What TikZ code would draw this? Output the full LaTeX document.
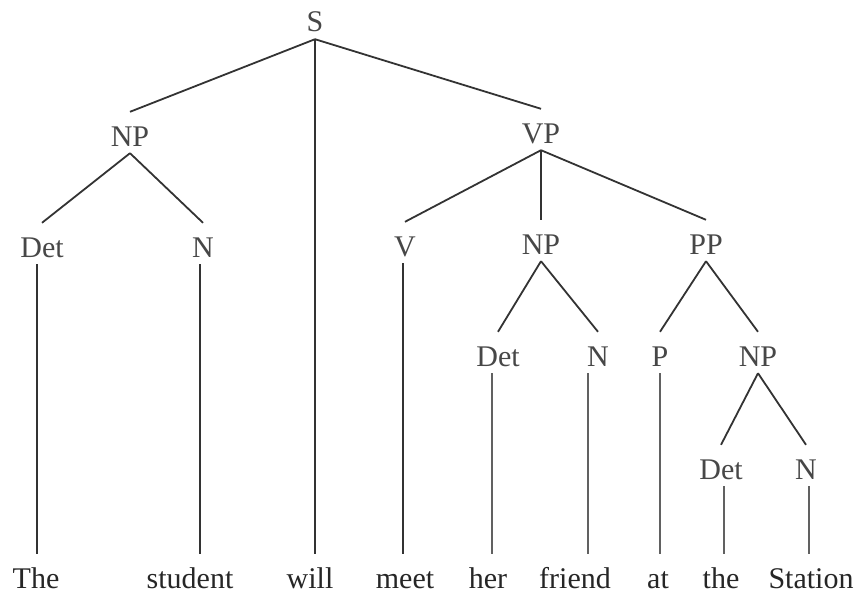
\documentclass[tikz,border=0pt]{standalone}
\usepackage{fontspec}
\setmainfont{Liberation Serif}
\begin{document}
\begin{tikzpicture}[x=1pt,y=-1pt,
  lab/.style={anchor=base, font=\fontsize{30}{35}\selectfont, text=black!72,
    text height=30pt, text depth=3pt, inner ysep=4pt, inner xsep=2pt},
  leaf/.style={lab, text=black!85},
  edge/.style={draw=black!80, line width=1.8pt},
  thinedge/.style={draw=black!62, line width=1.4pt}]
\useasboundingbox (0,0) rectangle (862,602);
% internal nodes
\node[lab] (S) at (315,32) {S};
\node[lab] (NPa) at (130,146) {NP};
\node[lab] (VP) at (541,143) {VP};
\node[lab] (Deta) at (42,257) {Det};
\node[lab] (Na) at (203,257) {N};
\node[lab] (V) at (405,256) {V};
\node[lab] (NPb) at (541,254) {NP};
\node[lab] (PP) at (706,254) {PP};
\node[lab] (Detb) at (498,366) {Det};
\node[lab] (Nb) at (598,366) {N};
\node[lab] (P) at (660,366) {P};
\node[lab] (NPc) at (758,366) {NP};
\node[lab] (Detc) at (721,479) {Det};
\node[lab] (Nc) at (806,479) {N};
% leaves
\node[leaf] (The) at (36,588) {The};
\node[leaf] (student) at (190,588) {student};
\node[leaf] (will) at (310,588) {will};
\node[leaf] (meet) at (405,588) {meet};
\node[leaf] (her) at (488,588) {her};
\node[leaf] (friend) at (575,588) {friend};
\node[leaf] (at) at (658,588) {at};
\node[leaf] (the) at (721,588) {the};
\node[leaf] (Station) at (811,588) {Station};
% branches
\draw[edge] (S.south) -- (NPa.north);
\draw[edge] (S.south) -- (VP.north);
\draw[edge] (S.south) -- (S.south |- will.north);
\draw[edge] (NPa.south) -- (Deta.north);
\draw[edge] (NPa.south) -- (Na.north);
\draw[edge] (VP.south) -- (V.north);
\draw[edge] (VP.south) -- (NPb.north);
\draw[edge] (VP.south) -- (PP.north);
\draw[edge] (NPb.south) -- (Detb.north);
\draw[edge] (NPb.south) -- (Nb.north);
\draw[edge] (PP.south) -- (P.north);
\draw[edge] (PP.south) -- (NPc.north);
\draw[edge] (NPc.south) -- (Detc.north);
\draw[edge] (NPc.south) -- (Nc.north);
% vertical lines to leaves
\draw[edge] ([xshift=-5pt]Deta.south) -- ([xshift=-5pt]Deta.south |- The.north);
\draw[edge] ([xshift=-3pt]Na.south) -- ([xshift=-3pt]Na.south |- student.north);
\draw[edge] ([xshift=-2pt]V.south) -- ([xshift=-2pt]V.south |- meet.north);
\draw[thinedge] ([xshift=-6pt]Detb.south) -- ([xshift=-6pt]Detb.south |- her.north);
\draw[thinedge] ([xshift=-10pt]Nb.south) -- ([xshift=-10pt]Nb.south |- friend.north);
\draw[thinedge] (P.south) -- (P.south |- at.north);
\draw[thinedge] ([xshift=3pt]Detc.south) -- ([xshift=3pt]Detc.south |- the.north);
\draw[thinedge] ([xshift=3pt]Nc.south) -- ([xshift=3pt]Nc.south |- Station.north);
\end{tikzpicture}
\end{document}
